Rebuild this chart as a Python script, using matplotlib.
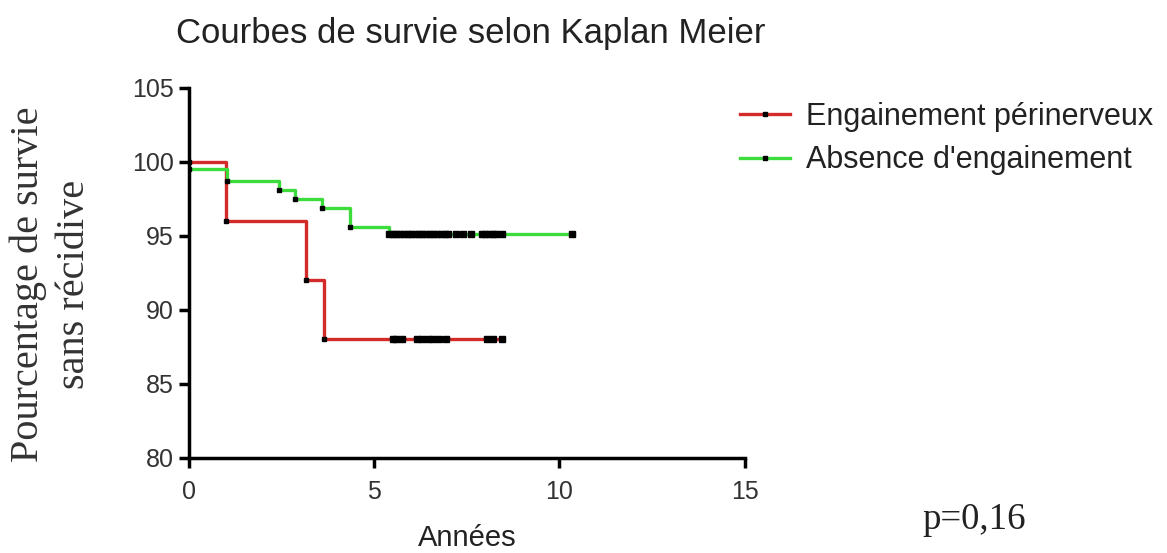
import matplotlib.pyplot as plt
from matplotlib.lines import Line2D

# Kaplan-Meier steps (time in years, survival in %)
red_times = [0, 1.0, 3.15, 3.64, 8.47]
red_surv = [100, 96, 92, 88, 88]
red_censor = [5.5, 5.6, 5.75, 6.15, 6.3, 6.45, 6.6, 6.75, 6.95, 8.05, 8.2, 8.45]

green_times = [0, 1.02, 2.43, 2.86, 3.59, 4.34, 5.4, 10.4]
green_surv = [99.5, 98.7, 98.1, 97.5, 96.9, 95.6, 95.1, 95.1]
green_censor = [5.4, 5.5, 5.6, 5.7, 5.8, 5.9, 6.0, 6.1, 6.2, 6.3, 6.4, 6.5,
                6.6, 6.7, 6.8, 6.9, 7.0, 7.2, 7.4, 7.6, 7.9, 8.0, 8.1,
                8.2, 8.3, 8.45, 10.35]

legend_labels = ["Engainement périnerveux", "Absence d'engainement"]
red = "#d42a2a"
green = "#3ddc3d"

plt.rcParams['font.family'] = ['Liberation Sans', 'DejaVu Sans']

fig = plt.figure(figsize=(11.67, 5.53), dpi=100)
ax = fig.add_axes([0.162, 0.172, 0.476, 0.669])


def draw(times, surv, censor, color):
    ax.step(times, surv, where="post", color=color, lw=2.4, zorder=2)
    # event marks at the bottom corner of each drop
    ax.plot(times[:-1], surv[:-1], ls="none", marker="s", ms=3.5,
            color="black", zorder=3)
    level = [surv[max(i for i, t in enumerate(times) if t <= c)]
             for c in censor]
    ax.plot(censor, level, ls="none", marker="s", ms=4.5, color="black",
            zorder=3)
    return Line2D([], [], color=color, lw=2.4, marker="s", ms=3.5,
                  mfc="black", mec="black")


h_red = draw(red_times, red_surv, red_censor, red)
h_green = draw(green_times, green_surv, green_censor, green)

ax.set_xlim(0, 15)
ax.set_ylim(80, 105)
ax.set_xticks([0, 5, 10, 15])
ax.set_yticks([80, 85, 90, 95, 100, 105])
for s in ["top", "right"]:
    ax.spines[s].set_visible(False)
for s in ["left", "bottom"]:
    ax.spines[s].set_linewidth(2.5)
ax.tick_params(width=2.5, length=7, labelsize=18, color="black",
               labelcolor="#333333", pad=4)
ax.tick_params(axis="x", pad=9)

fig.text(0.4036, 0.94, "Courbes de survie selon Kaplan Meier", fontsize=25,
         ha="center", va="center", color="#222222")
ax.set_xlabel("Années", fontsize=21, color="#222222", va="center")
ax.xaxis.set_label_coords(0.5, -0.216)
ax.set_ylabel("Pourcentage de survie\nsans récidive", fontsize=29,
              family=["Liberation Serif"], color="#333333", va="center",
              linespacing=1.3)
ax.yaxis.set_label_coords(-0.248, 0.47)

leg = fig.legend([h_red, h_green], legend_labels, loc="upper left",
                 bbox_to_anchor=(0.634, 0.816), frameon=False, fontsize=22,
                 handlelength=1.63, handletextpad=0.55, labelspacing=0.44,
                 borderpad=0, borderaxespad=0, numpoints=1)
for t in leg.get_texts():
    t.set_color("#222222")

fig.text(0.835, 0.06, "p=0,16", fontsize=26.5, family=["Liberation Serif"],
         ha="center", va="center", color="#222222")

fig.savefig("out.png", dpi=100)
